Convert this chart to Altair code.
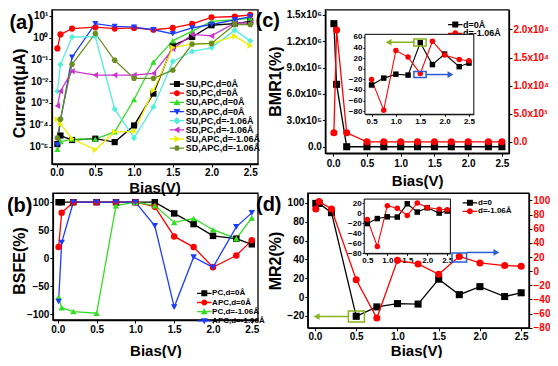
import altair as alt
import pandas as pd

# ---------------- data ----------------
bias = [0.01, 0.05, 0.2, 0.5, 0.75, 1.0, 1.25, 1.5, 1.75, 2.0, 2.3, 2.5]
inset_bias = [0.5, 0.75, 1.0, 1.25, 1.5, 1.75, 2.0, 2.3, 2.5]

# (a) currents in uA
a_names = ['SU,PC,d=0Å', 'SD,PC,d=0Å', 'SU,APC,d=0Å', 'SD,APC,d=0Å',
           'SU,PC,d=-1.06Å', 'SD,PC,d=-1.06Å', 'SU,APC,d=-1.06Å', 'SD,APC,d=-1.06Å']
a_su_pc_0 = [1.3e-5, 3.2e-5, 2.0e-5, 2.3e-5, 1.6e-5, 9.3e-5, 2.7e-3, 0.43, 1.07, 3.7, 4.4, 5.6]
a_sd_pc_0 = [0.32, 1.4, 2.6, 3.0, 2.6, 2.8, 2.3, 2.8, 4.3, 8.5, 9.3, 11.0]
a_su_apc_0 = [7.4e-6, 1.7e-5, 2.2e-5, 2.2e-5, 4.7e-5, 1.45e-3, 7.6e-2, 0.71, 2.0, 5.6, 6.6, 7.9]
a_sd_apc_0 = [1.2e-5, 1.6e-4, 0.126, 4.4, 3.3, 3.0, 2.3, 1.5, 2.8, 4.0, 6.6, 9.3]
a_su_pc_106 = [3.5e-3, 5.8e-2, 1.07, 1.1, 5.2e-4, 2.5e-5, 6.6e-4, 8.1e-2, 0.23, 0.35, 2.2, 0.71]
a_sd_pc_106 = [7.4e-4, 3.5e-3, 2.9e-2, 1.9e-2, 1.9e-2, 1.9e-2, 2.3e-2, 0.30, 1.4, 1.2, 4.7, 4.7]
a_su_apc_106 = [1.8e-4, 1.1e-4, 2.3e-5, 7.1e-6, 4.7e-5, 5.0e-5, 3.7e-3, 0.35, 0.5, 0.54, 1.17, 0.43]
a_sd_apc_106 = [2.5e-5, 1.8e-4, 6.0e-2, 1.55, 9.1e-2, 1.35e-2, 1.35e-2, 3.2e-2, 0.5, 0.54, 4.0, 4.0]

# (b) BSFE %
b_names = ['PC,d=0Å', 'APC,d=0Å', 'PC,d=-1.06Å', 'APC,d=-1.06Å']
b_pc_0 = [100, 100, 100, 100, 100, 100, 100, 80, 61, 40, 35, 25]
b_apc_0 = [20, 81, 100, 100, 100, 100, 92, 39, 20, -16, 5, 32]
b_pc_106 = [-69, -88, -95, -98, 94, 100, 94, 64, 71, 51, 35, 72]
b_apc_106 = [-77, 28, 100, 100, 100, 100, 58, -87, 2, -16, 56, 81]

# (c) BMR1 %
c_names = ['d=0Å', 'd=-1.06Å']
c_d0 = [1.4e6, 7.1e5, 0, 0, 0, 0, 0, 0, 0, 0, 0, 0]
c_d106 = [1617, 19900, 1617, 0, 0, 0, 0, 0, 0, 0, 0, 0]
c_inset_d0 = [-30.7, -17.7, -10.3, -12, 49.2, 7.8, 27.7, 3.9, 10.7]
c_inset_d106 = [-20.5, -78.3, 34.5, 22, -9.2, 52, 26, 17.5, 15.2]

# (d) MR2 %
d_names = ['d=0', 'd=-1.06Å']
d_d0 = [99.5, 99.5, 89.7, -20.5, -10.5, -7, -7.5, 19, 2.5, 11, 0.5, 4.5]
d_d106 = [88, 98.6, 88, -12.2, -66.3, 15.3, 10.2, -4.4, 20.8, 11.6, 8, 7]

# annotation boxes / arrows (data coordinates)
c_green_box = [1.37, 1.62, 43, 56]
c_green_arrow = [1.37, 0.85, 50]
c_blue_box = [1.37, 1.62, -16.5, -5.2]
c_blue_arrow = [1.62, 2.12, -11]
d_green_box = [0.405, 0.6, -26.6, -14.8]
d_green_arrow = [0.405, 0.02, -20.7]
d_blue_box = [1.661, 1.838, 13.0, 25.8]
d_blue_arrow = [1.838, 2.2, 26.5]

panel_labels = ['(a)', '(b)', '(c)', '(d)']

# ---------------- layout helpers ----------------
W, H = 542, 350
FONT = 'Liberation Sans'


def X(px):
    return (px - 2) * W / 555.0


def Y(py):
    return (py - 3) * H / 359.0


def long_df(xs, names, arrays):
    rows = []
    for name, arr in zip(names, arrays):
        for x, v in zip(xs, arr):
            rows.append({'bias': x, 'value': v, 'series': name})
    return pd.DataFrame(rows)


def lin(dom, rng):
    return alt.Scale(domain=dom, range=rng, nice=False, zero=False)


def ax_bottom(axis_py, values, fmt, size=10, pad=2, tick=3, title=None, ty=None, tx=None, width=1.3):
    kw = dict(orient='bottom', offset=Y(axis_py) - H, values=values, format=fmt,
              labelFontSize=size, labelPadding=pad, tickSize=tick, domainWidth=width,
              labelFlush=False, labelOverlap=False)
    if title is None:
        kw['title'] = None
    else:
        kw.update(title=title, titleX=X(tx), titleY=ty - Y(axis_py),
                  titleBaseline='middle', titleFontSize=15)
    return alt.Axis(**kw)


def ax_side(orient, axis_px, values, fmt=None, expr=None, size=10, pad=1, tick=3,
            title=None, tpos=None, color='black', width=1.3):
    off = -X(axis_px) if orient == 'left' else X(axis_px) - W
    kw = dict(orient=orient, offset=off, values=values, labelFontSize=size,
              labelPadding=pad, tickSize=tick, labelColor=color, domainWidth=width,
              labelFlush=False, labelOverlap=False)
    if fmt is not None:
        kw['format'] = fmt
    if expr is not None:
        kw['labelExpr'] = expr
    if title is None:
        kw['title'] = None
    else:
        kw.update(title=title, titleX=X(tpos[0]) - X(axis_px), titleY=Y(tpos[1]),
                  titleBaseline='middle', titleFontSize=16)
    return alt.Axis(**kw)


SQ = 'M-1,-1H1V1H-1Z'
CI = 'M-1,0A1,1,0,1,1,1,0A1,1,0,1,1,-1,0Z'
TU = 'M0,-1.15L1.15,0.85H-1.15Z'
TD = 'M0,1.15L-1.15,-0.85H1.15Z'
DI = 'M0,-1.25L1.25,0L0,1.25L-1.25,0Z'
TL = 'M-1.15,0L0.85,-1.15V1.15Z'
TR = 'M1.15,0L-0.85,1.15V-1.15Z'
HX = 'M-1,0L-0.5,-0.87H0.5L1,0L0.5,0.87H-0.5Z'
STUB = 'M-2.4,-0.22H2.4V0.22H-2.4Z'


def series(df, sx, sy, names, colors, shapes, size, sw=1.3, xaxis=None, yaxis=None):
    cs = alt.Scale(domain=names, range=colors)
    base = alt.Chart(df)
    lines = base.mark_line(strokeWidth=sw).encode(
        x=alt.X('bias:Q', scale=sx, axis=xaxis),
        y=alt.Y('value:Q', scale=sy, axis=yaxis),
        color=alt.Color('series:N', scale=cs, legend=None),
    )
    pts = base.mark_point(filled=True, size=size, opacity=1).encode(
        x=alt.X('bias:Q', scale=sx, axis=None),
        y=alt.Y('value:Q', scale=sy, axis=None),
        color=alt.Color('series:N', scale=cs, legend=None),
        shape=alt.Shape('series:N', scale=alt.Scale(domain=names, range=shapes), legend=None),
    )
    return [lines, pts]


def rect(sx, sy, xd, yd, stroke='black', fill='transparent', sw=1.3):
    df = pd.DataFrame({'x0': [xd[0]], 'x1': [xd[1]], 'y0': [yd[0]], 'y1': [yd[1]]})
    return alt.Chart(df).mark_rect(fill=fill, stroke=stroke, strokeWidth=sw).encode(
        x=alt.X('x0:Q', scale=sx, axis=None), x2=alt.X2('x1'),
        y=alt.Y('y0:Q', scale=sy, axis=None), y2=alt.Y2('y1'))


def arrow(sx, sy, spec, color, tip):
    df = pd.DataFrame({'x0': [spec[0]], 'x1': [spec[1]], 'y': [spec[2]]})
    rule = alt.Chart(df).mark_rule(color=color, strokeWidth=1.5).encode(
        x=alt.X('x0:Q', scale=sx, axis=None), x2=alt.X2('x1'),
        y=alt.Y('y:Q', scale=sy, axis=None))
    head = alt.Chart(df).mark_point(shape=tip, filled=True, color=color, size=45, opacity=1).encode(
        x=alt.X('x1:Q', scale=sx, axis=None), y=alt.Y('y:Q', scale=sy, axis=None))
    return [rule, head]


def legend_layers(names, colors, markers, sym_x, lab_x, y_first, y_last, fsize):
    ys = alt.Scale(type='point', domain=names, range=[Y(y_first), Y(y_last)], padding=0)
    df = pd.DataFrame({'series': names})
    sym = alt.Chart(df).mark_point(filled=True, size=36, opacity=1).encode(
        x=alt.value(X(sym_x)),
        y=alt.Y('series:N', scale=ys, axis=None),
        color=alt.Color('series:N', scale=alt.Scale(domain=names, range=colors), legend=None),
        shape=alt.Shape('series:N', scale=alt.Scale(domain=names, range=[STUB + m for m in markers]),
                        legend=None))
    txt = alt.Chart(df).mark_text(align='left', baseline='middle', font=FONT, fontSize=fsize,
                                  fontWeight='bold', color='black').encode(
        x=alt.value(X(lab_x)), y=alt.Y('series:N', scale=ys, axis=None), text='series:N')
    return [sym, txt]


def label(txt, px, py):
    return alt.Chart(pd.DataFrame({'t': [txt]})).mark_text(
        font=FONT, fontSize=20, fontWeight='bold', align='center', baseline='middle',
        color='black').encode(text='t:N', x=alt.value(X(px)), y=alt.value(Y(py)))


layers = []
xt = [0.0, 0.5, 1.0, 1.5, 2.0, 2.5]

# ---------------- panel (a) ----------------
a_colors = ['#000000', '#ff0000', '#33dd22', '#1a3cff', '#55eedd', '#cc33cc', '#eeee00', '#6b8e23']
a_shapes = ['square', 'circle', 'triangle-up', 'triangle-down', 'diamond', 'triangle-left',
            'triangle-right', HX]
a_markers = [SQ, CI, TU, TD, DI, TL, TR, HX]
ax_dom = [-0.06, 2.6]
ay_dom = [10 ** -5.8, 10 ** 1.27]
sAx = lin(ax_dom, [X(47), X(258)])
sAy = alt.Scale(type='log', domain=ay_dom, range=[Y(163), Y(5)], nice=False)
a_expr = ("'10' + (datum.value > 5 ? '¹' : datum.value > 0.5 ? '⁰' : '⁻' + "
          "['','¹','²','³','⁴','⁵','⁶'][round(-log(datum.value)/LN10)])")
layers.append(rect(sAx, sAy, ax_dom, ay_dom))
df_a = long_df(bias, a_names, [a_su_pc_0, a_sd_pc_0, a_su_apc_0, a_sd_apc_0,
                               a_su_pc_106, a_sd_pc_106, a_su_apc_106, a_sd_apc_106])
layers += series(df_a, sAx, sAy, a_names, a_colors, a_shapes, 38,
                 xaxis=ax_bottom(163, xt, '.1f', pad=1, title='Bias(V)', tx=152, ty=Y(187)),
                 yaxis=ax_side('left', 47, [1e-5, 1e-4, 1e-3, 1e-2, 1e-1, 1, 10], expr=a_expr,
                               title='Current(μA)', tpos=(14, 90)))
layers += legend_layers(a_names, a_colors, a_markers, 175, 184, 81, 146.8, 9)

# ---------------- panel (b) ----------------
b_colors = ['#000000', '#ff0000', '#33dd22', '#1a3cff']
b_shapes = ['square', 'circle', 'triangle-up', 'triangle-down']
bx_dom = [-0.063, 2.58]
by_dom = [-110, 116]
sBx = lin(bx_dom, [X(48), X(258)])
sBy = lin(by_dom, [Y(323), Y(193)])
layers.append(rect(sBx, sBy, bx_dom, by_dom))
df_b = long_df(bias, b_names, [b_pc_0, b_apc_0, b_pc_106, b_apc_106])
layers += series(df_b, sBx, sBy, b_names, b_colors, b_shapes, 42,
                 xaxis=ax_bottom(323, xt, '.1f', title='Bias(V)', tx=153, ty=342.3),
                 yaxis=ax_side('left', 48, [-100, -50, 0, 50, 100], fmt='d',
                               title='BSFE(%)', tpos=(14, 262)))
layers += legend_layers(b_names, b_colors, [SQ, CI, TU, TD], 203, 211, 295.7, 323.9, 8)

# ---------------- panel (c) ----------------
cx_dom = [-0.116, 2.605]
cyl_dom = [-74400, 1.556e6]
cyr_dom = [-2035, 23478]
sCx = lin(cx_dom, [X(327), X(515)])
sCyl = lin(cyl_dom, [Y(152), Y(5)])
sCyr = lin(cyr_dom, [Y(152), Y(5)])
sci_expr = ("datum.value == 0 ? '0.0' : format(datum.value / pow(10, floor(log(datum.value)/LN10 + 1e-6)), '.1f')"
            " + 'x10' + ['⁰','¹','²','³','⁴','⁵','⁶'][floor(log(datum.value)/LN10 + 1e-6)]")
layers.append(rect(sCx, sCyl, cx_dom, cyl_dom))
layers += series(long_df(bias, [c_names[0]], [c_d0]), sCx, sCyl, [c_names[0]], ['#000000'],
                 ['square'], 50,
                 xaxis=ax_bottom(152, xt, '.1f', title='Bias(V)', tx=421, ty=Y(180)),
                 yaxis=ax_side('left', 327, [0, 3e5, 6e5, 9e5, 1.2e6, 1.5e6], expr=sci_expr,
                               title='BMR1(%)', tpos=(276, 78)))
layers += series(long_df(bias, [c_names[1]], [c_d106]), sCx, sCyr, [c_names[1]], ['#ff0000'],
                 ['circle'], 50,
                 yaxis=ax_side('right', 515, [0, 5e3, 1e4, 1.5e4, 2e4], expr=sci_expr,
                               pad=1, color='#ff0000'))
layers += legend_layers(c_names, ['#000000', '#ff0000'], [SQ, CI], 460, 468, 20, 29, 9)

# (c) inset
cix_dom = [0.364, 2.6]
ciy_dom = [-86, 65]
sCix = lin(cix_dom, [X(367.5), X(479)])
sCiy = lin(ciy_dom, [Y(112), Y(30)])
layers.append(rect(sCix, sCiy, cix_dom, ciy_dom, fill='white', sw=1))
df_ci = long_df(inset_bias, c_names, [c_inset_d0, c_inset_d106])
layers += series(df_ci, sCix, sCiy, c_names, ['#000000', '#ff0000'], ['square', 'circle'], 30, sw=1.1,
                 xaxis=ax_bottom(112, [0.5, 1.0, 1.5, 2.0, 2.5], '.1f', size=8, pad=1, tick=2, width=1),
                 yaxis=ax_side('left', 367.5, [-80, -60, -40, -20, 0, 20, 40, 60], fmt='d', size=8,
                               tick=2, width=1))
GREEN = '#86b31c'
BLUE = '#2a5bd7'
layers.append(rect(sCix, sCiy, c_green_box[:2], c_green_box[2:], stroke=GREEN, sw=1.5))
layers += arrow(sCix, sCiy, c_green_arrow, GREEN, 'triangle-left')
layers.append(rect(sCix, sCiy, c_blue_box[:2], c_blue_box[2:], stroke=BLUE, sw=1.5))
layers += arrow(sCix, sCiy, c_blue_arrow, BLUE, 'triangle-right')

# ---------------- panel (d) ----------------
dx_dom = [-0.087, 2.595]
dyl_dom = [-32.7, 110.3]
dyr_dom = [-80, 110.2]
sDx = lin(dx_dom, [X(309), X(535.5)])
sDyl = lin(dyl_dom, [Y(331), Y(193)])
sDyr = lin(dyr_dom, [Y(331), Y(193)])
layers.append(rect(sDx, sDyl, dx_dom, dyl_dom))
layers += series(long_df(bias, [d_names[0]], [d_d0]), sDx, sDyl, [d_names[0]], ['#000000'],
                 ['square'], 50,
                 xaxis=ax_bottom(331, xt, '.1f', pad=1, title='Bias(V)', tx=420, ty=342.5),
                 yaxis=ax_side('left', 309, [-20, 0, 20, 40, 60, 80, 100], fmt='d',
                               title='MR2(%)', tpos=(276, 262)))
layers += series(long_df(bias, [d_names[1]], [d_d106]), sDx, sDyr, [d_names[1]], ['#ff0000'],
                 ['circle'], 50,
                 yaxis=ax_side('right', 535.5, [-80, -60, -40, -20, 0, 20, 40, 60, 80, 100], fmt='d',
                               pad=1, color='#ff0000'))
layers.append(rect(sDx, sDyl, d_green_box[:2], d_green_box[2:], stroke=GREEN, sw=1.5))
layers += arrow(sDx, sDyl, d_green_arrow, GREEN, 'triangle-left')
layers.append(rect(sDx, sDyr, d_blue_box[:2], d_blue_box[2:], stroke=BLUE, sw=1.5))
layers += arrow(sDx, sDyr, d_blue_arrow, BLUE, 'triangle-right')

# (d) inset
dix_dom = [0.42, 2.58]
diy_dom = [-80, 28.4]
sDix = lin(dix_dom, [X(366.7), X(455)])
sDiy = lin(diy_dom, [Y(254.7), Y(199)])
layers.append(rect(sDix, sDiy, dix_dom, diy_dom, fill='white', sw=1))
df_di = long_df(inset_bias, d_names, [d_d0[3:], d_d106[3:]])
layers += series(df_di, sDix, sDiy, d_names, ['#000000', '#ff0000'], ['square', 'circle'], 30, sw=1.1,
                 xaxis=ax_bottom(254.7, [0.5, 1.0, 1.5, 2.0, 2.5], '.1f', size=8, pad=1, tick=2, width=1),
                 yaxis=ax_side('left', 366.7, [-80, -60, -40, -20, 0, 20], fmt='d', size=8,
                               tick=2, width=1))
layers += legend_layers(d_names, ['#000000', '#ff0000'], [SQ, CI], 475, 483.3, 202.8, 211.6, 8)

# ---------------- panel labels ----------------
for txt, pos in zip(panel_labels, [(16, 18), (14, 206), (268, 16), (269, 205)]):
    layers.append(label(txt, *pos))

chart = alt.layer(*layers).resolve_scale(
    x='independent', y='independent', color='independent', shape='independent'
).properties(
    width=W, height=H, autosize=alt.AutoSizeParams(type='none'), padding=0
).configure_view(stroke=None).configure_axis(
    labelFont=FONT, titleFont=FONT, labelFontWeight='bold', titleFontWeight='bold',
    domainColor='black', tickColor='black', tickWidth=1, grid=False,
    titleColor='black'
)

chart.save('out.html', embed_options={'renderer': 'svg', 'actions': False})
